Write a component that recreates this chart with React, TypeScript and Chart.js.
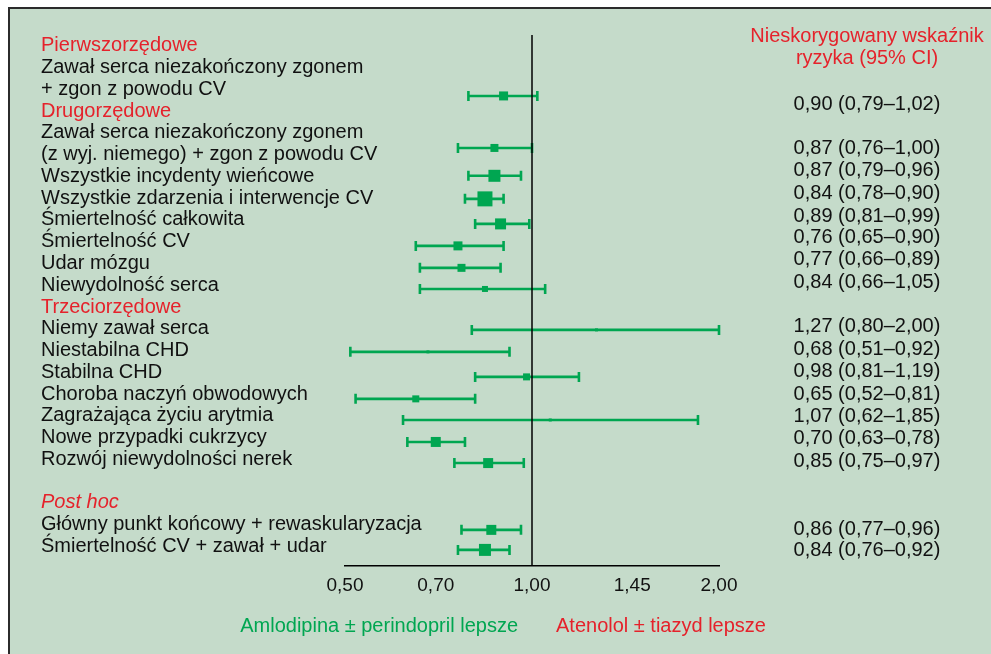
import React, { useEffect, useRef } from 'react';
import { Chart, registerables } from 'chart.js';

Chart.register(...registerables);

// ---- Data ----
const rowLabels = [
  'Pierwszorzędowe',
  'Zawał serca niezakończony zgonem',
  '+ zgon z powodu CV',
  'Drugorzędowe',
  'Zawał serca niezakończony zgonem',
  '(z wyj. niemego) + zgon z powodu CV',
  'Wszystkie incydenty wieńcowe',
  'Wszystkie zdarzenia i interwencje CV',
  'Śmiertelność całkowita',
  'Śmiertelność CV',
  'Udar mózgu',
  'Niewydolność serca',
  'Trzeciorzędowe',
  'Niemy zawał serca',
  'Niestabilna CHD',
  'Stabilna CHD',
  'Choroba naczyń obwodowych',
  'Zagrażająca życiu arytmia',
  'Nowe przypadki cukrzycy',
  'Rozwój niewydolności nerek',
  '',
  'Post hoc',
  'Główny punkt końcowy + rewaskularyzacja',
  'Śmiertelność CV + zawał + udar',
];
const sectionRows = [0, 3, 12, 21];
const italicRows = [21];

const hr = [0.90, 0.87, 0.87, 0.84, 0.89, 0.76, 0.77, 0.84, 1.27, 0.68, 0.98, 0.65, 1.07, 0.70, 0.85, 0.86, 0.84];
const lo = [0.79, 0.76, 0.79, 0.78, 0.81, 0.65, 0.66, 0.66, 0.80, 0.51, 0.81, 0.52, 0.62, 0.63, 0.75, 0.77, 0.76];
const hi = [1.02, 1.00, 0.96, 0.90, 0.99, 0.90, 0.89, 1.05, 2.00, 0.92, 1.19, 0.81, 1.85, 0.78, 0.97, 0.96, 0.92];
// marker weight (square side)
const markerWeight = [9, 8, 12, 15, 11, 9, 8, 6, 3, 3, 7, 7, 3, 10, 10, 10, 12];

const xTicks = [0.5, 0.7, 1.0, 1.45, 2.0];
const headerLines = ['Nieskorygowany wskaźnik', 'ryzyka (95% CI)'];
const leftNote = 'Amlodipina ± perindopril lepsze';
const rightNote = 'Atenolol ± tiazyd lepsze';

// ---- Layout (row units on the y scale) ----
const barRow = [2.30, 4.69, 5.97, 7.03, 8.18, 9.19, 10.20, 11.17, 13.05, 14.06, 15.21, 16.22, 17.19, 18.20, 19.17, 22.24, 23.16];
const valueRow = [2.67, 4.73, 5.74, 6.76, 7.84, 8.82, 9.83, 10.85, 12.91, 13.97, 14.98, 16.04, 17.05, 18.06, 19.12, 22.20, 23.21];

const GREEN = '#00a651';
const RED = '#e5222b';
const BLACK = '#111111';
const FONT = '"Liberation Sans", Arial, Helvetica, sans-serif';

const fmt = (v: number) => v.toFixed(2).replace('.', ',');

const forestPlugin = {
  id: 'forest',
  beforeDatasetsDraw(chart: any) {
    const { ctx, scales } = chart;
    const x = scales.x, y = scales.y;
    ctx.save();
    ctx.strokeStyle = GREEN;
    ctx.lineWidth = 2.6;
    hr.forEach((_, i) => {
      const py = y.getPixelForValue(barRow[i]);
      const x1 = x.getPixelForValue(lo[i]);
      const x2 = x.getPixelForValue(hi[i]);
      ctx.beginPath();
      ctx.moveTo(x1, py);
      ctx.lineTo(x2, py);
      ctx.moveTo(x1, py - 5);
      ctx.lineTo(x1, py + 5);
      ctx.moveTo(x2, py - 5);
      ctx.lineTo(x2, py + 5);
      ctx.stroke();
    });
    ctx.restore();
  },
  afterDatasetsDraw(chart: any) {
    const { ctx, scales, chartArea } = chart;
    const px = scales.x.getPixelForValue(1);
    ctx.save();
    ctx.strokeStyle = '#000';
    ctx.lineWidth = 1.5;
    ctx.beginPath();
    ctx.moveTo(px, chartArea.top);
    ctx.lineTo(px, chartArea.bottom);
    ctx.stroke();
    ctx.restore();
  },
  afterDraw(chart: any) {
    const { ctx, scales, chartArea } = chart;
    const x = scales.x, y = scales.y;
    ctx.save();
    ctx.textBaseline = 'middle';
    // left labels
    rowLabels.forEach((t, i) => {
      if (!t) return;
      const isSection = sectionRows.includes(i);
      const isItalic = italicRows.includes(i);
      ctx.font = `${isItalic ? 'italic ' : ''}20px ${FONT}`;
      ctx.fillStyle = isSection ? RED : BLACK;
      ctx.textAlign = 'left';
      ctx.fillText(t, 31, y.getPixelForValue(i));
    });
    // header
    const colX = 857;
    ctx.font = `20px ${FONT}`;
    ctx.fillStyle = RED;
    ctx.textAlign = 'center';
    ctx.fillText(headerLines[0], colX, 27);
    ctx.fillText(headerLines[1], colX, 49);
    // values
    ctx.fillStyle = BLACK;
    hr.forEach((v, i) => {
      ctx.fillText(`${fmt(v)} (${fmt(lo[i])}–${fmt(hi[i])})`, colX, y.getPixelForValue(valueRow[i]));
    });
    // bottom notes
    const p1 = x.getPixelForValue(1);
    const ny = chartArea.bottom + 60;
    ctx.fillStyle = GREEN;
    ctx.textAlign = 'right';
    ctx.fillText(leftNote, p1 - 14, ny);
    ctx.fillStyle = RED;
    ctx.textAlign = 'left';
    ctx.fillText(rightNote, p1 + 24, ny);
    ctx.restore();
  },
};

export default function App() {
  const ref = useRef<HTMLCanvasElement>(null);
  useEffect(() => {
    document.body.style.margin = '0';
    document.body.style.overflow = 'hidden';
    const chart = new Chart(ref.current as HTMLCanvasElement, {
      type: 'scatter',
      data: {
        datasets: [
          {
            data: hr.map((v, i) => ({ x: v, y: barRow[i] })),
            pointStyle: 'rect',
            pointRadius: markerWeight.map((s) => s / Math.SQRT2),
            pointHoverRadius: markerWeight.map((s) => s / Math.SQRT2),
            backgroundColor: GREEN,
            borderColor: GREEN,
            borderWidth: 0,
          },
        ],
      },
      options: {
        responsive: false,
        animation: false,
        events: [],
        layout: { padding: { left: 335, right: 272, top: 26, bottom: 0 } },
        plugins: { legend: { display: false }, tooltip: { enabled: false } },
        scales: {
          x: {
            type: 'logarithmic',
            min: 0.5,
            max: 2,
            afterBuildTicks: (s: any) => {
              s.ticks = xTicks.map((v) => ({ value: v }));
            },
            afterFit: (s: any) => {
              s.height = 88;
            },
            ticks: {
              autoSkip: false,
              maxRotation: 0,
              padding: 8,
              color: BLACK,
              font: { family: FONT, size: 19 },
              callback: (v: any) => fmt(Number(v)),
            },
            grid: { display: false, drawTicks: false },
            border: { display: true, color: '#000', width: 1.5 },
          },
          y: {
            type: 'linear',
            min: -0.5,
            max: 23.9,
            reverse: true,
            display: false,
          },
        },
      } as any,
      plugins: [forestPlugin],
    });
    return () => chart.destroy();
  }, []);
  return (
    <div
      style={{
        position: 'absolute',
        left: 8,
        top: 7,
        width: 981,
        height: 645,
        borderTop: '2px solid #2b2b2b',
        borderLeft: '2px solid #2b2b2b',
        background: '#c5dbca',
      }}
    >
      <canvas ref={ref} width={981} height={645} style={{ display: 'block' }} />
    </div>
  );
}
